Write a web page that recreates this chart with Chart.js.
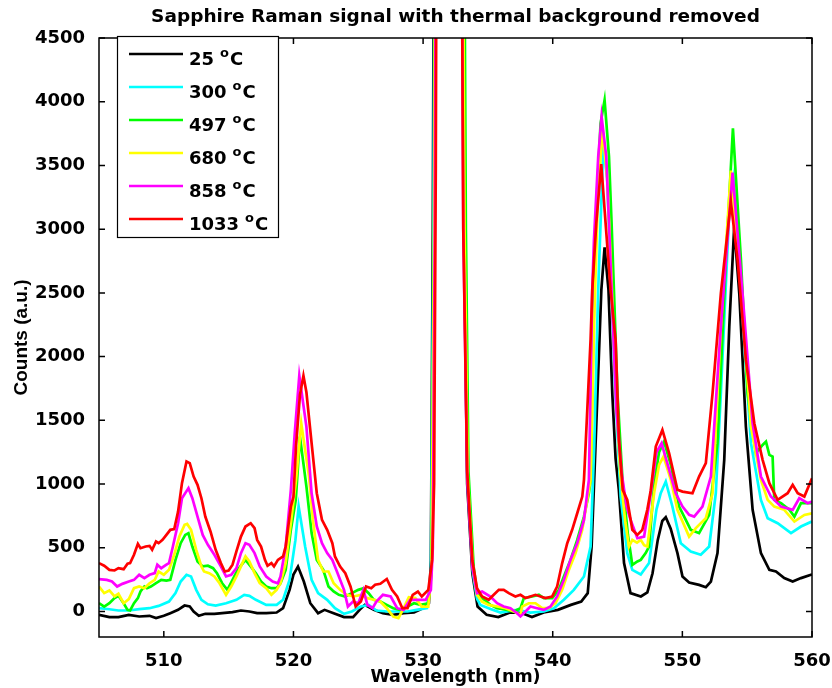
<!DOCTYPE html>
<html>
<head>
<meta charset="utf-8">
<title>Sapphire Raman signal</title>
<script src="https://cdn.jsdelivr.net/npm/chart.js@4.4.1/dist/chart.umd.min.js"></script>
<style>
  html, body { margin: 0; padding: 0; background: #fff; }
  #wrap { width: 832px; height: 688px; }
</style>
</head>
<body>
<div id="wrap"><canvas id="myChart" width="832" height="688"></canvas></div>
<script>
'use strict';

// ************* DATA *******************
// [wavelength (nm), counts], one list per temperature

const black25 = [
  [505.0,-26],[505.8,-44],[506.5,-44],[507.3,-26],[508.1,-39],[508.9,-34],[509.4,-52],[510.0,-34],
  [510.5,-13],[511.1,13],[511.6,47],[512.0,39],[512.3,0],[512.7,-34],[513.2,-18],[513.9,-18],
  [514.5,-13],[515.3,-5],[515.95,8],[516.6,0],[517.2,-13],[517.9,-13],[518.7,-8],[519.2,26],
  [519.7,170],[520.0,290],[520.35,353],[520.8,235],[521.3,65],[521.9,-13],[522.4,13],[523.1,-13],
  [523.9,-44],[524.6,-44],[525.1,13],[525.5,52],[526.2,13],[526.9,-13],[527.7,-26],[528.5,-13],
  [529.3,-8],[530.0,26],[530.45,65],[530.6,400],[530.75,3000],[530.85,6000],[532.0,20000],
  [533.0,6000],[533.15,3000],[533.4,1000],[533.8,300],[534.2,39],[534.9,-26],[535.8,-44],
  [536.7,-8],[537.5,-8],[538.4,-44],[539.3,-8],[540.4,13],[541.4,52],[542.2,78],[542.7,144],
  [543.0,510],[543.3,1300],[543.75,2523],[544.0,2858],[544.3,2523],[544.6,1700],[544.85,1200],
  [545.1,955],[545.5,380],[546.0,144],[546.8,118],[547.3,150],[547.7,300],[548.1,560],
  [548.45,710],[548.72,740],[549.1,650],[549.62,458],[550.01,275],[550.52,228],[551.29,209],
  [551.81,191],[552.2,235],[552.71,458],[553.23,1190],[553.62,2235],[554.0,3020],[554.39,2497],
  [554.9,1451],[555.42,798],[556.06,458],[556.71,327],[557.22,314],[557.86,262],[558.51,235],
  [559.15,262],[559.92,288],[560.0,290]
];

const cyan300 = [
  [505.0,26],[505.8,18],[506.5,8],[507.3,8],[508.1,18],[508.9,26],[509.6,44],[510.4,78],
  [510.9,144],[511.3,235],[511.75,288],[512.1,275],[512.5,170],[512.9,92],[513.4,57],[514.0,47],
  [514.8,65],[515.6,92],[516.2,131],[516.6,123],[517.1,92],[517.9,52],[518.7,52],[519.2,92],
  [519.7,248],[520.15,560],[520.4,824],[520.9,510],[521.4,249],[521.9,144],[522.6,92],[523.2,26],
  [523.9,-18],[524.5,0],[525.2,39],[525.8,52],[526.4,8],[527.2,0],[528.0,0],[528.8,0],
  [529.5,13],[530.3,26],[530.6,300],[530.8,3000],[530.9,6000],[532.0,20000],[533.05,6000],
  [533.2,3000],[533.45,1000],[533.85,300],[534.16,100],[534.42,52],[535.2,20],[535.97,-8],
  [536.7,5],[537.25,13],[538.28,-8],[539.31,0],[540.09,26],[540.86,92],[541.63,170],[542.41,275],
  [542.92,510],[543.2,1300],[543.5,2500],[543.9,3650],[544.2,3400],[544.5,2600],[544.8,1800],
  [545.24,902],[545.75,458],[546.14,327],[546.79,290],[547.43,380],[548.0,800],[548.33,928],
  [548.72,1020],[549.23,824],[549.88,536],[550.65,471],[551.42,445],[552.07,510],[552.58,928],
  [552.97,1713],[553.62,3150],[553.95,3390],[554.52,2497],[555.29,1321],[556.06,876],[556.58,732],
  [557.35,693],[558.38,615],[559.15,667],[559.98,706]
];

const green497 = [
  [505.0,65],[505.4,39],[505.8,65],[506.2,105],[506.5,123],[506.9,65],[507.2,13],[507.4,8],
  [507.7,65],[508.0,105],[508.2,157],[508.5,196],[508.7,183],[509.0,196],[509.4,222],[509.8,248],
  [510.2,242],[510.5,248],[510.9,405],[511.3,536],[511.65,601],[511.9,614],[512.2,510],[512.6,393],
  [513.0,354],[513.4,359],[513.8,340],[514.1,301],[514.5,222],[514.9,170],[515.3,248],[515.7,327],
  [516.1,380],[516.3,405],[516.7,354],[517.1,301],[517.5,235],[517.9,196],[518.3,183],[518.7,183],
  [519.0,222],[519.4,327],[519.8,641],[520.18,876],[520.5,1372],[521.0,981],[521.4,615],[521.8,405],
  [522.3,327],[522.7,197],[523.1,157],[523.5,131],[524.0,118],[524.5,144],[525.0,170],[525.4,183],
  [525.8,144],[526.2,92],[526.7,78],[527.2,52],[527.7,26],[528.2,13],[528.8,39],[529.3,65],
  [529.8,52],[530.4,65],[530.65,300],[530.85,3000],[530.95,6000],[532.0,20000],[533.15,6000],
  [533.3,3000],[533.5,1100],[533.9,350],[534.16,157],[534.55,105],[535.19,52],[535.71,26],
  [536.48,13],[537.0,0],[537.51,26],[537.77,105],[538.41,118],[538.93,131],[539.31,105],[539.96,105],
  [540.47,170],[540.86,275],[541.37,405],[541.89,562],[542.41,745],[542.79,928],[542.92,1033],
  [543.25,2784],[543.43,3305],[543.69,3830],[544.0,4013],[544.34,3569],[544.54,3047],[544.72,2523],
  [545.0,1700],[545.4,1000],[545.8,600],[546.14,366],[546.53,393],[546.79,405],[547.17,458],
  [547.43,510],[547.82,1000],[548.2,1250],[548.59,1333],[549.11,1151],[549.75,823],[550.65,641],
  [551.29,615],[552.07,758],[552.71,1321],[553.36,2758],[553.9,3791],[554.52,2758],[555.03,1713],
  [555.67,1242],[556.19,1307],[556.45,1333],[556.71,1229],[556.96,1216],[557.09,876],[557.61,850],
  [558.25,798],[558.64,745],[559.15,850],[560.0,850]
];

const yellow680 = [
  [505.0,196],[505.4,144],[505.8,165],[506.2,118],[506.5,139],[506.9,65],[507.3,97],[507.7,183],
  [508.1,196],[508.5,183],[508.9,222],[509.3,248],[509.6,314],[510.0,288],[510.4,327],[510.8,445],
  [511.2,588],[511.6,680],[511.8,687],[512.1,641],[512.5,484],[512.9,353],[513.1,314],[513.5,301],
  [513.9,275],[514.3,222],[514.8,131],[515.2,196],[515.6,275],[515.95,354],[516.3,432],[516.6,393],
  [517.0,301],[517.4,222],[517.9,183],[518.3,131],[518.7,170],[519.0,222],[519.4,380],[519.8,693],
  [520.2,1033],[520.6,1477],[521.2,1059],[521.5,719],[521.9,405],[522.3,314],[522.7,314],[523.1,222],
  [523.6,170],[524.1,131],[524.6,118],[525.2,131],[525.7,105],[526.2,92],[526.7,78],[527.2,26],
  [527.7,-39],[528.1,-52],[528.5,26],[528.9,112],[529.4,105],[529.9,39],[530.4,39],[530.65,300],
  [530.85,3000],[530.95,6000],[532.0,20000],[533.05,6000],[533.2,3000],[533.45,1050],[533.85,330],
  [534.16,131],[534.55,78],[535.06,52],[535.71,39],[536.35,26],[537.0,0],[537.51,-26],[537.64,39],
  [538.15,65],[538.67,65],[539.18,26],[539.7,26],[540.22,65],[540.73,170],[541.25,327],[541.76,458],
  [542.28,641],[542.66,876],[542.92,1033],[543.2,2300],[543.5,3300],[543.85,3780],[544.2,3400],
  [544.5,2700],[544.8,1900],[545.2,1100],[545.6,700],[545.88,510],[546.14,562],[546.5,540],
  [546.79,562],[547.05,520],[547.3,510],[547.82,930],[548.2,1150],[548.55,1216],[549.11,1033],
  [549.62,798],[550.52,588],[551.04,654],[551.81,732],[552.33,928],[552.97,2235],[553.74,3459],
  [554.52,2549],[555.29,1451],[556.06,1033],[556.58,876],[557.09,823],[557.86,798],[558.64,706],
  [559.41,758],[560.0,770]
];

const magenta858 = [
  [505.0,254],[505.6,248],[506.0,235],[506.4,196],[506.8,217],[507.3,235],[507.7,248],[508.1,288],
  [508.5,262],[508.9,288],[509.3,301],[509.5,367],[509.8,340],[510.2,367],[510.4,380],[510.7,510],
  [511.1,693],[511.4,889],[511.9,968],[512.2,889],[512.6,745],[513.0,601],[513.4,523],[513.9,445],
  [514.4,354],[514.8,275],[515.2,288],[515.6,340],[515.95,458],[516.3,536],[516.6,523],[517.0,458],
  [517.4,354],[517.9,275],[518.4,235],[518.8,222],[519.0,275],[519.4,510],[519.8,955],[520.1,1400],
  [520.45,1850],[521.0,1451],[521.4,928],[521.8,667],[522.2,536],[522.6,458],[523.0,405],[523.3,327],
  [523.9,170],[524.2,39],[524.6,78],[525.0,65],[525.4,170],[525.7,52],[526.1,26],[526.4,78],
  [526.9,131],[527.5,118],[528.0,26],[528.5,13],[529.0,92],[529.5,92],[530.2,92],[530.6,170],
  [530.75,500],[530.9,3000],[531.0,6000],[532.0,20000],[532.95,6000],[533.1,3000],[533.4,1050],
  [533.8,350],[534.16,144],[534.55,157],[535.19,118],[535.71,65],[536.22,39],[536.74,26],
  [537.25,-13],[537.51,-39],[537.9,0],[538.28,39],[538.8,26],[539.31,13],[539.83,39],[540.34,118],
  [540.86,248],[541.37,405],[541.89,536],[542.41,719],[542.66,928],[542.79,1033],[543.05,2523],
  [543.18,2915],[543.51,3569],[543.77,3882],[544.13,3569],[544.34,3047],[544.54,2523],[544.9,1600],
  [545.3,1100],[545.7,820],[546.01,719],[546.53,575],[547.05,588],[547.56,928],[548.0,1250],
  [548.4,1320],[549.49,928],[550.01,823],[550.52,758],[550.91,745],[551.55,823],[552.2,1059],
  [552.97,2235],[553.87,3443],[554.64,2497],[555.42,1477],[556.06,1059],[556.83,902],[557.61,823],
  [558.51,798],[559.02,889],[559.67,850],[560.0,863]
];

const red1033 = [
  [505.0,380],[505.4,359],[505.8,327],[506.2,322],[506.5,340],[506.9,332],[507.2,375],[507.4,380],
  [507.7,445],[508.0,531],[508.2,497],[508.6,510],[508.9,515],[509.1,484],[509.4,549],[509.6,536],
  [509.9,562],[510.2,601],[510.5,641],[510.8,646],[511.1,784],[511.4,1007],[511.75,1177],[512.0,1164],
  [512.3,1059],[512.6,994],[512.9,889],[513.2,745],[513.6,628],[514.0,484],[514.4,380],[514.7,314],
  [515.0,322],[515.3,367],[515.6,471],[515.95,588],[516.3,667],[516.7,693],[517.0,654],[517.2,562],
  [517.5,510],[517.8,405],[518.0,359],[518.3,380],[518.5,354],[518.8,405],[519.2,432],[519.4,510],
  [519.8,823],[520.0,900],[520.2,1300],[520.5,1700],[520.77,1849],[521.0,1720],[521.4,1321],
  [521.8,928],[522.2,719],[522.6,641],[523.0,536],[523.2,432],[523.6,353],[524.0,301],[524.4,197],
  [524.8,39],[525.2,78],[525.6,197],[526.0,183],[526.3,210],[526.7,218],[527.2,255],[527.6,170],
  [528.0,118],[528.4,26],[528.8,26],[529.2,131],[529.6,157],[529.9,118],[530.4,170],[530.7,405],
  [530.85,1000],[530.98,3500],[531.05,6000],[532.0,20000],[532.95,6000],[533.1,3000],[533.4,1100],
  [533.8,400],[534.16,183],[534.55,118],[535.06,92],[535.45,131],[535.84,170],[536.22,170],
  [536.61,144],[537.12,118],[537.51,131],[537.9,105],[538.28,118],[538.67,131],[539.06,118],
  [539.44,105],[539.96,118],[540.34,196],[540.73,380],[541.12,536],[541.5,641],[541.89,771],
  [542.28,902],[542.41,1033],[542.92,2131],[543.05,2523],[543.36,3046],[543.74,3510],[544.08,3046],
  [544.46,2523],[544.85,2131],[545.11,1347],[545.4,955],[545.75,876],[546.14,641],[546.53,601],
  [546.91,641],[547.3,800],[547.56,950],[547.95,1294],[548.46,1425],[548.98,1242],[549.62,955],
  [550.01,941],[550.78,928],[551.29,1059],[551.81,1164],[552.33,1713],[552.97,2497],[553.74,3216],
  [554.26,2758],[554.9,1974],[555.55,1477],[556.19,1190],[556.71,1007],[557.35,876],[558.12,928],
  [558.51,994],[558.9,928],[559.41,902],[560.0,1046]
];

const seriesData = [black25, cyan300, green497, yellow680, magenta858, red1033];
const seriesTemps = ['25', '300', '497', '680', '858', '1033'];
const seriesColors = ['#000000', '#00ffff', '#00ff00', '#ffff00', '#ff00ff', '#ff0000'];

const xTicks = [510, 520, 530, 540, 550, 560];
const yTicks = [0, 500, 1000, 1500, 2000, 2500, 3000, 3500, 4000, 4500];

const chartTitle = 'Sapphire Raman signal with thermal background removed';
const xTitle = 'Wavelength (nm)';
const yTitle = 'Counts (a.u.)';

// ************* CHART *******************

const ctx = document.getElementById('myChart').getContext('2d');
const boldFont = 'DejaVu Sans';

let datasets = [];
for (let i = 0; i < seriesData.length; i++) {
  datasets.push({
    label: seriesTemps[i] + ' oC',
    data: seriesData[i].map(p => ({ x: p[0], y: p[1] })),
    borderColor: seriesColors[i],
    backgroundColor: seriesColors[i],
    borderWidth: 2.7,
    pointRadius: 0,
    tension: 0,
    fill: false,
    order: seriesData.length - i // later temperatures on top
  });
}

// axes box with inward ticks on all four sides
const boxPlugin = {
  id: 'axesBox',
  afterDatasetsDraw(chart) {
    const c = chart.ctx;
    const a = chart.chartArea;
    const x = chart.scales.x;
    const y = chart.scales.y;
    const len = 6;
    c.save();
    c.strokeStyle = '#000';
    c.lineWidth = 1.5;
    c.strokeRect(a.left, a.top, a.right - a.left, a.bottom - a.top);
    c.beginPath();
    xTicks.forEach(v => {
      const px = x.getPixelForValue(v);
      c.moveTo(px, a.bottom); c.lineTo(px, a.bottom - len);
      c.moveTo(px, a.top); c.lineTo(px, a.top + len);
    });
    yTicks.forEach(v => {
      const py = y.getPixelForValue(v);
      c.moveTo(a.left, py); c.lineTo(a.left + len, py);
      c.moveTo(a.right, py); c.lineTo(a.right - len, py);
    });
    c.stroke();
    c.restore();
  }
};

// boxed legend in the top-left corner, degree written as superscript o
const legendPlugin = {
  id: 'boxLegend',
  afterDraw(chart) {
    const c = chart.ctx;
    const left = 117.5, top = 36.5, w = 161, h = 201;
    c.save();
    c.fillStyle = '#fff';
    c.fillRect(left, top, w, h);
    c.strokeStyle = '#000';
    c.lineWidth = 1.2;
    c.strokeRect(left, top, w, h);
    c.textBaseline = 'alphabetic';
    c.textAlign = 'left';
    for (let i = 0; i < seriesTemps.length; i++) {
      const ly = 54 + i * 33;
      c.strokeStyle = seriesColors[i];
      c.lineWidth = 2.7;
      c.beginPath();
      c.moveTo(129, ly);
      c.lineTo(183, ly);
      c.stroke();

      c.fillStyle = '#000';
      c.font = 'bold 18px "' + boldFont + '"';
      let tx = 189;
      c.fillText(seriesTemps[i], tx, ly + 11);
      tx += c.measureText(seriesTemps[i]).width + 6;
      c.font = 'bold 13px "' + boldFont + '"';
      c.fillText('o', tx, ly + 3);
      tx += c.measureText('o').width + 1;
      c.font = 'bold 18px "' + boldFont + '"';
      c.fillText('C', tx, ly + 11);
    }
    c.restore();
  }
};

const chartObj = {
  type: 'line',
  data: { datasets: datasets },
  options: {
    responsive: false,
    animation: false,
    events: [],
    layout: { padding: { left: 0, right: 20, top: 0, bottom: 0 } },
    plugins: {
      legend: { display: false },
      tooltip: { enabled: false },
      title: {
        display: true,
        text: chartTitle,
        fullSize: false,
        color: '#000',
        font: { family: boldFont, size: 18.5, weight: 'bold' },
        padding: { top: 6, bottom: 9.8 }
      }
    },
    scales: {
      x: {
        type: 'linear',
        min: 505,
        max: 560,
        afterBuildTicks: s => { s.ticks = xTicks.map(v => ({ value: v })); },
        afterFit: s => { s.height = 51; s.paddingLeft = 0; s.paddingRight = 0; },
        grid: { display: false },
        border: { display: false },
        ticks: {
          color: '#000',
          padding: 6,
          maxRotation: 0,
          callback: v => String(v),
          font: { family: boldFont, size: 18, weight: 'bold' }
        },
        title: {
          display: true,
          text: xTitle,
          color: '#000',
          padding: { top: 0, bottom: 0 },
          font: { family: boldFont, size: 17.5, weight: 'bold' }
        }
      },
      y: {
        type: 'linear',
        min: -200,
        max: 4500,
        afterBuildTicks: s => { s.ticks = yTicks.map(v => ({ value: v })); },
        afterFit: s => { s.width = 99; s.paddingTop = 0; s.paddingBottom = 0; },
        grid: { display: false },
        border: { display: false },
        ticks: {
          color: '#000',
          padding: 6,
          callback: v => String(v),
          font: { family: boldFont, size: 18, weight: 'bold' }
        },
        title: {
          display: true,
          text: yTitle,
          color: '#000',
          padding: { top: 10, bottom: 0 },
          font: { family: 'Liberation Sans', size: 19, weight: 'bold' }
        }
      }
    }
  },
  plugins: [boxPlugin, legendPlugin]
};

const myChart = new Chart(ctx, chartObj); // eslint-disable-line
</script>
</body>
</html>
